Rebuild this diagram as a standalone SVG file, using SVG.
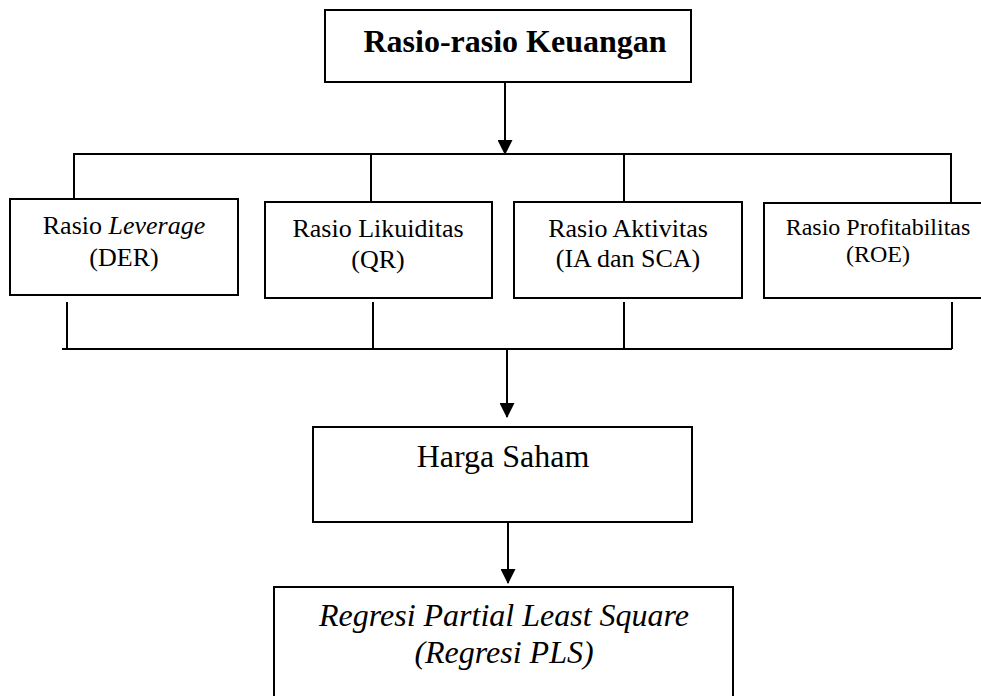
<svg xmlns="http://www.w3.org/2000/svg" width="981" height="696" viewBox="0 0 981 696">
<style>
.box{fill:#fff;stroke:#000;stroke-width:2}
.ln{fill:none;stroke:#000;stroke-width:2}
text{font-family:"Liberation Serif","Times New Roman",serif;fill:#000;text-anchor:middle}
.t{font-size:26px}
.s{font-size:24px}
.it{font-style:italic}
.big{font-size:32px}
</style>
<defs>
<marker id="arr" markerWidth="15" markerHeight="15" refX="14" refY="7.5" orient="auto" markerUnits="userSpaceOnUse">
<path d="M0,0 L15,7.5 L0,15 Z" fill="#000"/>
</marker>
</defs>
<rect width="981" height="696" fill="#fff"/>
<g id="connectors">
<line class="ln" x1="505" y1="82" x2="505" y2="154" marker-end="url(#arr)"/>
<polyline class="ln" points="74,199 74,154 951,154 951,203"/>
<line class="ln" x1="371" y1="154" x2="371" y2="202"/>
<line class="ln" x1="624" y1="154" x2="624" y2="202"/>
<line class="ln" x1="62" y1="349" x2="952" y2="349"/>
<line class="ln" x1="67" y1="302" x2="67" y2="349"/>
<line class="ln" x1="373" y1="302" x2="373" y2="349"/>
<line class="ln" x1="624" y1="302" x2="624" y2="349"/>
<line class="ln" x1="952" y1="302" x2="952" y2="349"/>
<line class="ln" x1="507" y1="349" x2="507" y2="417" marker-end="url(#arr)"/>
<line class="ln" x1="508" y1="522" x2="508" y2="583" marker-end="url(#arr)"/>
</g>
<g id="rasio-keuangan">
<rect class="box" x="325" y="10" width="366" height="72"/>
<text class="big" x="515" y="52" font-weight="bold">Rasio-rasio Keuangan</text>
</g>
<g id="leverage">
<rect class="box" x="10" y="199" width="228" height="96"/>
<text class="t" x="124" y="234">Rasio <tspan class="it">Leverage</tspan></text>
<text class="t" x="124" y="266">(DER)</text>
</g>
<g id="likuiditas">
<rect class="box" x="265" y="202" width="227" height="96"/>
<text class="t" x="378" y="237">Rasio Likuiditas</text>
<text class="t" x="378" y="268">(QR)</text>
</g>
<g id="aktivitas">
<rect class="box" x="514" y="202" width="228" height="96"/>
<text class="t" x="628" y="237">Rasio Aktivitas</text>
<text class="t" x="628" y="267">(IA dan SCA)</text>
</g>
<g id="profitabilitas">
<rect class="box" x="764" y="203" width="230" height="95"/>
<text class="s" x="878" y="235">Rasio Profitabilitas</text>
<text class="s" x="878" y="262">(ROE)</text>
</g>
<g id="harga-saham">
<rect class="box" x="313" y="427" width="379" height="95"/>
<text class="big" x="503" y="467">Harga Saham</text>
</g>
<g id="regresi-pls">
<rect class="box" x="274" y="587" width="459" height="120"/>
<text class="it big" x="504" y="626">Regresi Partial Least Square</text>
<text class="it big" x="504" y="663">(Regresi PLS)</text>
</g>
</svg>
